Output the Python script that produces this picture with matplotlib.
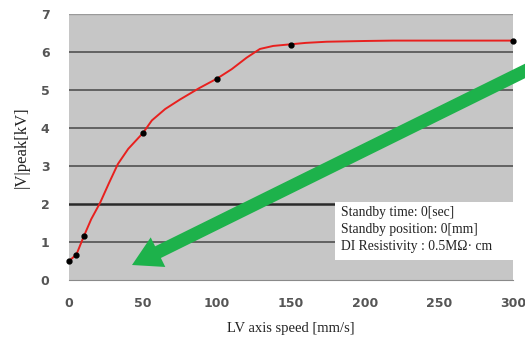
import matplotlib.pyplot as plt
from matplotlib.patches import FancyArrow, Rectangle

# measured points
speed = [0, 5, 10, 50, 100, 150, 300]
vpeak = [0.5, 0.67, 1.15, 3.87, 5.3, 6.18, 6.3]

# red curve
curve_x = [0, 5, 10, 15, 21, 27, 33, 40, 50, 56, 65, 75, 88, 100, 110, 120, 129, 138, 149, 160, 174, 200, 219, 260, 300]
curve_y = [0.5, 0.67, 1.15, 1.6, 2.03, 2.55, 3.05, 3.45, 3.87, 4.2, 4.5, 4.75, 5.05, 5.3, 5.55, 5.85, 6.08, 6.16, 6.2, 6.24, 6.27, 6.29, 6.3, 6.3, 6.3]

xticks = [0, 50, 100, 150, 200, 250, 300]
yticks = [0, 1, 2, 3, 4, 5, 6, 7]

info = ["Standby time: 0[sec]", "Standby position: 0[mm]", "DI Resistivity : 0.5M\u03a9\u00b7 cm"]

fig = plt.figure(figsize=(5.25, 3.43), dpi=100)
ax = fig.add_axes([69 / 525, 63 / 343, 444 / 525, 266 / 343])
ax.set_facecolor('#c6c6c6')
ax.set_xlim(0, 300)
ax.set_ylim(0, 7)

for y in yticks[1:]:
    if y == 2:
        ax.axhline(y, color='#2a2a2a', lw=1.8, zorder=1)
    elif y == 7:
        ax.axhline(y, color='#9a9a9a', lw=1.0, zorder=1)
    else:
        ax.axhline(y, color='#5a5a5a', lw=1.3, zorder=1)

ax.plot(curve_x, curve_y, color='#e8201e', lw=1.4, zorder=3)
ax.plot(speed, vpeak, 'o', color='black', ms=3.5, zorder=4, clip_on=False)

for s in ax.spines.values():
    s.set_visible(False)
ax.spines['bottom'].set_visible(True)
ax.spines['bottom'].set_color('#8a8a8a')

ax.set_xticks(xticks)
ax.set_yticks(yticks)
ax.tick_params(length=0, labelsize=9, labelcolor='#555555', pad=12)
for lab in ax.get_xticklabels() + ax.get_yticklabels():
    lab.set_fontweight('bold')
ax.tick_params(axis='y', pad=14)

ax.set_xlabel("LV axis speed [mm/s]", family='Liberation Serif', fontsize=10.5, color='#222222', labelpad=9)
ax.set_ylabel("|V|peak[kV]", family='Liberation Serif', fontsize=12, color='#222222', labelpad=8)

# info box
ax.add_patch(Rectangle((0.599, 0.075), 0.401, 0.218, transform=ax.transAxes,
                       fc='white', ec='none', zorder=5))
ax.text(0.612, 0.277, "\n".join(info), transform=ax.transAxes, family='Liberation Serif',
        fontsize=9.8, color='#222222', va='top', ha='left', linespacing=1.4, zorder=6)

# green arrow in inches
arr = FancyArrow(5.3, 2.745, -3.98, -1.965, width=0.13, head_width=0.33, head_length=0.29,
                 length_includes_head=True, color='#1db24b', ec='none',
                 transform=fig.dpi_scale_trans, zorder=7)
arr.set_clip_on(False)
fig.patches.append(arr)

fig.savefig("out.png", dpi=100)
